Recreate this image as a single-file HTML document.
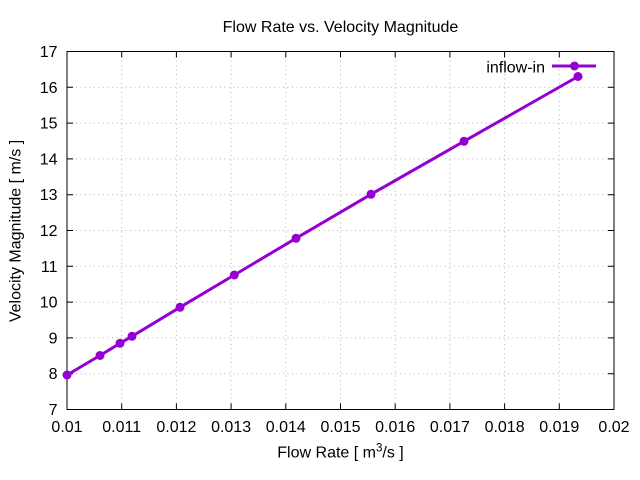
<!DOCTYPE html>
<html><head><meta charset="utf-8"><style>
html,body{margin:0;padding:0;background:#fff;}
svg{display:block;}
text{font-family:"Liberation Sans",Arial,sans-serif;font-size:16px;fill:#000;}
</style></head><body>
<svg width="640" height="480" viewBox="0 0 640 480" xmlns="http://www.w3.org/2000/svg">
<rect width="640" height="480" fill="#fff"/>
<g stroke="#b4b4b4" stroke-width="1" stroke-dasharray="1,3.5" fill="none">
<line x1="67" y1="87.3" x2="614" y2="87.3"/>
<line x1="67" y1="123.1" x2="614" y2="123.1"/>
<line x1="67" y1="158.9" x2="614" y2="158.9"/>
<line x1="67" y1="194.7" x2="614" y2="194.7"/>
<line x1="67" y1="230.5" x2="614" y2="230.5"/>
<line x1="67" y1="266.3" x2="614" y2="266.3"/>
<line x1="67" y1="302.1" x2="614" y2="302.1"/>
<line x1="67" y1="337.9" x2="614" y2="337.9"/>
<line x1="67" y1="373.7" x2="614" y2="373.7"/>
<line x1="121.7" y1="51.5" x2="121.7" y2="409.5"/>
<line x1="176.4" y1="51.5" x2="176.4" y2="409.5"/>
<line x1="231.1" y1="51.5" x2="231.1" y2="409.5"/>
<line x1="285.8" y1="51.5" x2="285.8" y2="409.5"/>
<line x1="340.5" y1="51.5" x2="340.5" y2="409.5"/>
<line x1="395.2" y1="51.5" x2="395.2" y2="409.5"/>
<line x1="449.9" y1="51.5" x2="449.9" y2="409.5"/>
<line x1="504.6" y1="51.5" x2="504.6" y2="409.5"/>
<line x1="559.3" y1="51.5" x2="559.3" y2="409.5"/>
</g>
<g stroke="#000" stroke-width="1" fill="none">
<rect x="67" y="51.5" width="547" height="358"/>
<path d="M67 87.3h6M67 123.1h6M67 158.9h6M67 194.7h6M67 230.5h6M67 266.3h6M67 302.1h6M67 337.9h6M67 373.7h6
M614 87.3h-6M614 123.1h-6M614 158.9h-6M614 194.7h-6M614 230.5h-6M614 266.3h-6M614 302.1h-6M614 337.9h-6M614 373.7h-6
M121.7 409.5v-6M176.4 409.5v-6M231.1 409.5v-6M285.8 409.5v-6M340.5 409.5v-6M395.2 409.5v-6M449.9 409.5v-6M504.6 409.5v-6M559.3 409.5v-6
M121.7 51.5v6M176.4 51.5v6M231.1 51.5v6M285.8 51.5v6M340.5 51.5v6M395.2 51.5v6M449.9 51.5v6M504.6 51.5v6M559.3 51.5v6"/>
</g>
<g text-anchor="end">
<text x="57.5" y="57">17</text>
<text x="57.5" y="92.8">16</text>
<text x="57.5" y="128.6">15</text>
<text x="57.5" y="164.4">14</text>
<text x="57.5" y="200.2">13</text>
<text x="57.5" y="236">12</text>
<text x="57.5" y="271.8">11</text>
<text x="57.5" y="307.6">10</text>
<text x="57.5" y="343.4">9</text>
<text x="57.5" y="379.2">8</text>
<text x="57.5" y="415">7</text>
</g>
<g text-anchor="middle">
<text x="67" y="432">0.01</text>
<text x="121.7" y="432">0.011</text>
<text x="176.4" y="432">0.012</text>
<text x="231.1" y="432">0.013</text>
<text x="285.8" y="432">0.014</text>
<text x="340.5" y="432">0.015</text>
<text x="395.2" y="432">0.016</text>
<text x="449.9" y="432">0.017</text>
<text x="504.6" y="432">0.018</text>
<text x="559.3" y="432">0.019</text>
<text x="614" y="432">0.02</text>
<text x="340.5" y="32">Flow Rate vs. Velocity Magnitude</text>
<text x="340.5" y="457.5">Flow Rate [ m<tspan font-size="11.5" dy="-6">3</tspan><tspan dy="6">/s ]</tspan></text>
<text transform="translate(20.5,231) rotate(-90)">Velocity Magnitude [ m/s ]</text>
</g>
<text x="545" y="72.5" text-anchor="end">inflow-in</text>
<g stroke="#9400d3" stroke-width="3" fill="none" stroke-linejoin="round">
<line x1="552" y1="66" x2="596" y2="66"/>
<polyline points="67,375 100,355.5 120,343.3 132,336.3 180,307.3 234.3,275 296,238.3 371,194.3 464,141.3 578,76.5"/>
</g>
<g fill="#9400d3">
<circle cx="574.5" cy="66" r="4.5"/>
<circle cx="67" cy="375" r="4.5"/>
<circle cx="100" cy="355.5" r="4.5"/>
<circle cx="120" cy="343.3" r="4.5"/>
<circle cx="132" cy="336.3" r="4.5"/>
<circle cx="180" cy="307.3" r="4.5"/>
<circle cx="234.3" cy="275" r="4.5"/>
<circle cx="296" cy="238.3" r="4.5"/>
<circle cx="371" cy="194.3" r="4.5"/>
<circle cx="464" cy="141.3" r="4.5"/>
<circle cx="578" cy="76.5" r="4.5"/>
</g>
</svg>
</body></html>
